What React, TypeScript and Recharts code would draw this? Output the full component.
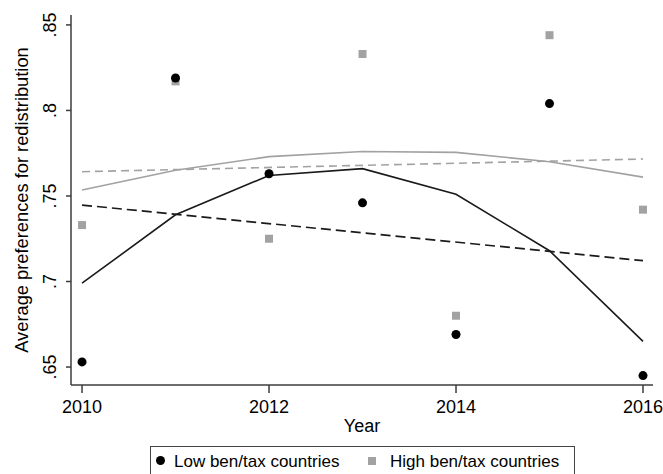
import React from 'react';
import { ComposedChart, Line, Scatter, XAxis, YAxis } from 'recharts';

const FONT = '"Liberation Sans", Arial, Helvetica, sans-serif';

// Years and values
const years = [2010, 2011, 2012, 2013, 2014, 2015, 2016];
const lowMeans = [0.653, 0.819, 0.763, 0.746, 0.669, 0.804, 0.645];
const highMeans = [0.733, 0.817, 0.725, 0.833, 0.680, 0.844, 0.742];
const lowSmooth = [0.699, 0.739, 0.762, 0.766, 0.751, 0.718, 0.665];
const highSmooth = [0.7535, 0.765, 0.773, 0.776, 0.7755, 0.770, 0.761];
// linear fits: only the end points are drawn
const lowLinear = [0.7447, null, null, null, null, null, 0.7122];
const highLinear = [0.7642, null, null, null, null, null, 0.7716];

const xTicks = [2010, 2012, 2014, 2016];
const yTicks = [0.65, 0.7, 0.75, 0.8, 0.85];

const rows = years.map((year, i) => ({
  year,
  lowMean: lowMeans[i],
  highMean: highMeans[i],
  lowSmooth: lowSmooth[i],
  highSmooth: highSmooth[i],
  lowLinear: lowLinear[i],
  highLinear: highLinear[i],
}));

const FRAME = '#3c3c3c';
const GREY = '#a2a2a2';

const fmt = (v: number) => String(v).replace(/^0/, '');

const YTick = (props: any) => {
  const { x, y, payload } = props;
  return (
    <text
      x={x - 8}
      y={y}
      transform={`rotate(-90, ${x - 8}, ${y})`}
      textAnchor="middle"
      fontSize={18}
      fontFamily={FONT}
      fill="#000"
    >
      {fmt(payload.value)}
    </text>
  );
};

const Dot = (p: any) => <circle cx={p.cx} cy={p.cy} r={4.5} fill="#000" />;
const Square = (p: any) => <rect x={p.cx - 4} y={p.cy - 4} width={8} height={8} fill={GREY} />;

export default function App() {
  return (
    <div style={{ position: 'absolute', left: 0, top: 0, width: 663, height: 474, background: '#fff', overflow: 'hidden' }}>
      <ComposedChart width={663} height={474} data={rows} margin={{ top: 15, right: 10, bottom: 0, left: 0 }}>
        <XAxis
          dataKey="year"
          type="number"
          domain={[2009.882, 2016.107]}
          ticks={xTicks}
          allowDataOverflow
          height={89}
          tickSize={8}
          tickMargin={7}
          stroke={FRAME}
          strokeWidth={1.5}
          tick={{ fontSize: 18, fontFamily: FONT, fill: '#000' }}
          label={{
            content: (p: any) => (
              <text
                x={p.viewBox.x + p.viewBox.width / 2}
                y={p.viewBox.y + 47}
                textAnchor="middle"
                fontSize={18}
                fontFamily={FONT}
                fill="#000"
              >
                Year
              </text>
            ),
          }}
        />
        <XAxis xAxisId="top" dataKey="year" type="number" orientation="top" domain={[2009.882, 2016.107]}
          allowDataOverflow height={0} tick={false} tickLine={false} stroke={FRAME} strokeWidth={1.5} />
        <YAxis
          type="number"
          domain={[0.6395, 0.8558]}
          ticks={yTicks}
          allowDataOverflow
          width={71}
          tickSize={5}
          tickMargin={2}
          stroke={FRAME}
          strokeWidth={1.5}
          tick={YTick}
          label={{
            content: (p: any) => {
              const cx = p.viewBox.x + 28;
              const cy = p.viewBox.y + p.viewBox.height / 2;
              return (
                <text x={cx} y={cy} transform={`rotate(-90, ${cx}, ${cy})`} textAnchor="middle"
                  fontSize={18.3} fontFamily={FONT} fill="#000">
                  Average preferences for redistribution
                </text>
              );
            },
          }}
        />
        <YAxis yAxisId="right" orientation="right" type="number" domain={[0.6395, 0.8558]} allowDataOverflow
          width={0} tick={false} tickLine={false} stroke={FRAME} strokeWidth={1.5} />

        <Line dataKey="highLinear" stroke={GREY} strokeWidth={1.6} strokeDasharray="8 5" dot={false}
          connectNulls isAnimationActive={false} />
        <Line dataKey="highSmooth" stroke={GREY} strokeWidth={1.6} dot={false} isAnimationActive={false} />
        <Line dataKey="lowLinear" stroke="#1a1a1a" strokeWidth={1.7} strokeDasharray="10 5" dot={false}
          connectNulls isAnimationActive={false} />
        <Line dataKey="lowSmooth" stroke="#1a1a1a" strokeWidth={1.6} dot={false} isAnimationActive={false} />
        <Scatter dataKey="highMean" shape={Square} isAnimationActive={false} />
        <Scatter dataKey="lowMean" shape={Dot} isAnimationActive={false} />
      </ComposedChart>

      <div
        style={{
          position: 'absolute',
          left: 150,
          top: 446,
          width: 425,
          height: 40,
          border: '1px solid #444',
          boxSizing: 'border-box',
          fontFamily: FONT,
          fontSize: 17,
          color: '#000',
        }}
      >
        <span style={{ position: 'absolute', left: 5, top: 9, width: 9, height: 9, borderRadius: '50%', background: '#000' }} />
        <span style={{ position: 'absolute', left: 23, top: 5, lineHeight: '20px', whiteSpace: 'nowrap' }}>Low ben/tax countries</span>
        <span style={{ position: 'absolute', left: 217, top: 10, width: 8, height: 8, background: GREY }} />
        <span style={{ position: 'absolute', left: 239, top: 5, lineHeight: '20px', whiteSpace: 'nowrap' }}>High ben/tax countries</span>
      </div>
    </div>
  );
}
